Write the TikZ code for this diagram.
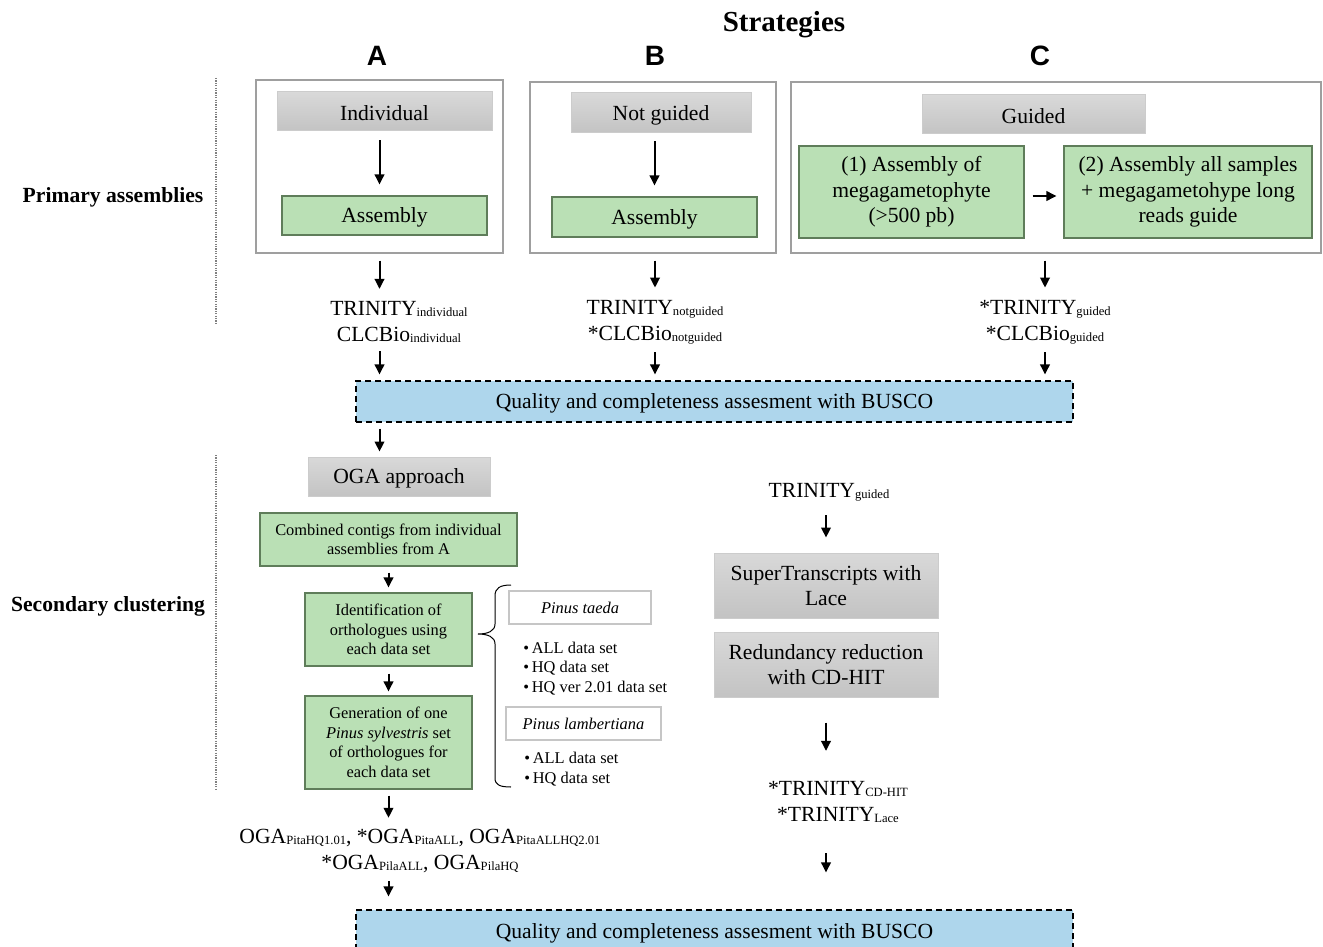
\documentclass[tikz,border=0pt]{standalone}
\usepackage{fontspec}
\setmainfont{Liberation Serif}
\newfontfamily\abcfont{Liberation Sans}
\usetikzlibrary{arrows.meta}
\newcommand\fsz[2]{\fontsize{#1}{#2}\selectfont}
\newcommand\sbt[1]{\raisebox{-0.6pt}{\fontsize{6.3}{7}\selectfont #1}}
\definecolor{grnF}{RGB}{186,224,181}
\definecolor{grnB}{RGB}{95,125,90}
\definecolor{bluF}{RGB}{174,214,236}
\tikzset{
  outer/.style={draw=gray!75, line width=0.6pt, inner sep=0pt},
  gbox/.style={draw=gray!40, top color=gray!30, bottom color=gray!47, line width=0.5pt, inner sep=0pt, align=center, font=\fsz{10.8}{12.6}, execute at begin node={\rule{0pt}{9.5pt}}},
  grn/.style={draw=grnB, fill=grnF, line width=0.6pt, inner sep=0pt, align=center, font=\fsz{10.8}{12.75}, execute at begin node={\rule{0pt}{9.5pt}}},
  sgrn/.style={draw=grnB, fill=grnF, line width=0.6pt, inner sep=0pt, align=center, font=\fsz{8.2}{9.75}, execute at begin node={\rule{0pt}{6.8pt}}},
  wbox/.style={draw=gray!45, line width=0.6pt, inner sep=0pt, align=center, font=\fsz{8.2}{9.75}\itshape},
  busco/.style={draw=black, dash pattern=on 3pt off 2pt, line width=0.6pt, fill=bluF, inner sep=0pt, font=\fsz{10.8}{12.6}, execute at begin node={\rule{0pt}{9.5pt}}},
  txt/.style={inner sep=0pt, align=center, font=\fsz{10.8}{13}},
  blist/.style={inner sep=0pt, align=left, font=\fsz{8.2}{9.9}},
  side/.style={inner sep=0pt, font=\fsz{10.8}{13}\bfseries},
  abc/.style={inner sep=0pt, font=\abcfont\fsz{14}{16}\bfseries},
  arr/.style={-{Triangle[length=5pt,width=4.8pt]}, line width=1pt},
  dots/.style={gray, line width=0.6pt, dash pattern=on 0.6pt off 0.6pt},
}
\begin{document}
\begin{tikzpicture}[x=0.5pt, y=-0.5pt]
\useasboundingbox (0,0) rectangle (1323,947);
% titles
\node[inner sep=0pt, font=\fsz{14.5}{16}\bfseries] (title) at (784,25) {Strategies};
\node[abc] (lA) at (377,56) {A};
\node[abc] (lB) at (655,56) {B};
\node[abc] (lC) at (1040,56) {C};
% side labels
\node[side] (pa) at (113,197) {Primary assemblies};
\node[side] (sc) at (108,606) {Secondary clustering};
\draw[dots] (216,78) -- (216,325);
\draw[dots] (216,455) -- (216,790);
% strategy A
\node[outer, minimum width=123.5pt, minimum height=86.5pt] (boxA) at (379.5,166.5) {};
\node[gbox, minimum width=107.5pt, minimum height=19.5pt] (indA) at (384.5,111.5) {Individual};
\node[grn, minimum width=102.5pt, minimum height=19.5pt] (asmA) at (384.5,215.5) {Assembly};
\draw[arr, shorten <=4.5pt, shorten >=5.5pt] (indA.south -| boxA) -- (boxA |- asmA.north);
% strategy B
\node[outer, minimum width=123pt, minimum height=85.5pt] (boxB) at (653,167.5) {};
\node[gbox, minimum width=90pt, minimum height=20pt] (ngB) at (661,113) {Not guided};
\node[grn, minimum width=102.5pt, minimum height=20pt] (asmB) at (654.5,217) {Assembly};
\draw[arr, shorten <=4pt, shorten >=5.5pt] (ngB.south -| asmB) -- (asmB);
% strategy C
\node[outer, minimum width=265pt, minimum height=85.5pt] (boxC) at (1056,167.5) {};
\node[gbox, minimum width=111.5pt, minimum height=19.5pt] (gdC) at (1033.5,114.5) {Guided};
\node[grn, minimum width=112.5pt, minimum height=46pt] (g1) at (911.5,192) {(1) Assembly of\\megagametophyte\\(>500 pb)};
\node[grn, minimum width=124pt, minimum height=46pt] (g2) at (1188,192) {(2) Assembly all samples\\+ megagametohype long\\reads guide};
\draw[arr, shorten <=4pt, shorten >=3.5pt] ([yshift=-2pt]g1.east) -- ([yshift=-2pt]g2.west);
% assembly outputs
\node[txt] (trA) at (399,322) {TRINITY\sbt{individual}\\CLCBio\sbt{individual}};
\node[txt] (trB) at (655,322) {TRINITY\sbt{notguided}\\*CLCBio\sbt{notguided}};
\node[txt] (trC) at (1045,322) {*TRINITY\sbt{guided}\\*CLCBio\sbt{guided}};
\draw[arr, shorten <=3.5pt, shorten >=6pt] (boxA.south) -- (boxA.south |- trA.north);
\draw[arr, shorten <=3.5pt, shorten >=6pt] (boxB.south -| trB) -- (trB.north);
\draw[arr, shorten <=3.5pt, shorten >=6pt] (trC |- boxC.south) -- (trC.north);
% BUSCO 1
\node[busco, minimum width=358.5pt, minimum height=20.5pt] (busco1) at (714.5,401.5) {Quality and completeness assesment with BUSCO};
\draw[arr, shorten <=4pt, shorten >=3pt] (boxA |- trA.south) -- (boxA |- busco1.north);
\draw[arr, shorten <=4pt, shorten >=3pt] (trB.south) -- (trB |- busco1.north);
\draw[arr, shorten <=4pt, shorten >=3pt] (trC.south) -- (trC |- busco1.north);
% OGA approach
\node[gbox, minimum width=91pt, minimum height=19.5pt] (oga) at (399,476.5) {OGA approach};
\draw[arr, shorten <=3pt, shorten >=2.5pt] (boxA |- busco1.south) -- (boxA |- oga.north);
\node[sgrn, minimum width=128.5pt, minimum height=26.5pt] (comb) at (388.5,539.5) {Combined contigs from individual\\assemblies from A};
\node[sgrn, minimum width=83.5pt, minimum height=36.5pt] (ident) at (388.5,629.5) {Identification of\\orthologues using\\each data set};
\node[sgrn, minimum width=83.5pt, minimum height=46.5pt] (gen) at (388.5,742.5) {Generation of one\\\textit{Pinus sylvestris} set\\of orthologues for\\each data set};
\draw[arr, shorten <=3pt, shorten >=2.5pt] (comb) -- (ident);
\draw[arr, shorten <=3.5pt, shorten >=2pt] (ident) -- (gen);
% brace and data sets
\draw[line width=0.5pt] (511,585) .. controls (500,585) and (495,588) .. (495,596) -- (495,624) .. controls (495,631) and (488,634) .. (478,634) .. controls (488,634) and (495,637) .. (495,644) -- (495,778) .. controls (495,785) and (500,787) .. (511,787);
\node[wbox, minimum width=71pt, minimum height=16.5pt] (pt) at (580,607.5) {Pinus taeda};
\node[blist, anchor=west] (l1) at (523,668.5) {\textbullet\,ALL data set\\\textbullet\,HQ data set\\\textbullet\,HQ ver 2.01 data set};
\node[wbox, minimum width=77.5pt, minimum height=16.5pt] (pl) at (583.5,723.5) {Pinus lambertiana};
\node[blist, anchor=west] (l2) at (524,769) {\textbullet\,ALL data set\\\textbullet\,HQ data set};
% OGA outputs
\node[txt] (ogaT) at (420,851) {OGA\sbt{PitaHQ1.01}, *OGA\sbt{PitaALL}, OGA\sbt{PitaALLHQ2.01}\\*OGA\sbt{PilaALL}, OGA\sbt{PilaHQ}};
\draw[arr, shorten <=3pt, shorten >=5.5pt] (gen.south -| comb) -- (comb |- ogaT.north);
% right column
\node[txt] (trG) at (829,492) {TRINITY\sbt{guided}};
\node[gbox, minimum width=112pt, minimum height=32.5pt] (sup) at (826,585.5) {SuperTranscripts with\\Lace};
\node[gbox, minimum width=112pt, minimum height=32.5pt] (red) at (826,664.5) {Redundancy reduction\\with CD-HIT};
\draw[arr, shorten <=7pt, shorten >=7.5pt] (trG.south -| sup) -- (sup.north);
\node[txt] (trF) at (838,802) {*TRINITY\sbt{CD-HIT}\\*TRINITY\sbt{Lace}};
\draw[arr, shorten <=12.5pt, shorten >=15pt] (red.south) -- (red |- trF.north);
% BUSCO 2
\node[busco, minimum width=358.5pt, minimum height=21pt] (busco2) at (714.5,931) {Quality and completeness assesment with BUSCO};
\draw[arr, shorten <=4pt, shorten >=6.5pt] (comb |- ogaT.south) -- (comb |- busco2.north);
\draw[arr, shorten <=15pt, shorten >=18.5pt] (red |- trF.south) -- (red |- busco2.north);
\end{tikzpicture}
\end{document}
